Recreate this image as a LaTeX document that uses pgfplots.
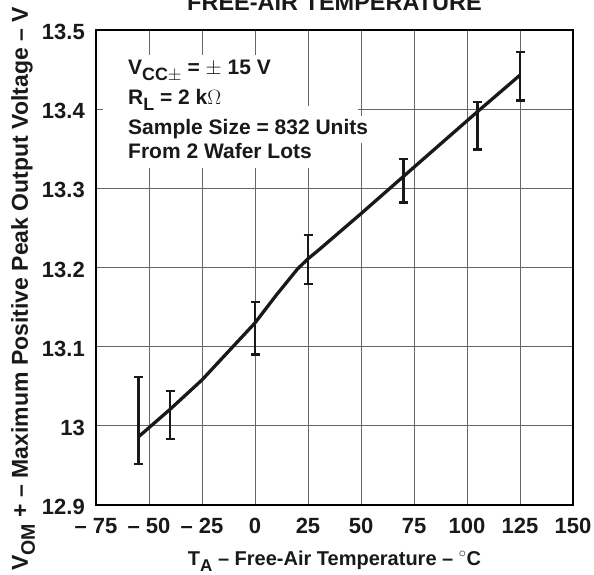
\documentclass[border=0pt]{standalone}
\usepackage{fontspec}
\setmainfont{Liberation Sans}
\usepackage{pgfplots}
\usepackage{pgfplotstable}
\pgfplotsset{compat=1.18}

\newcommand\sub[1]{\raisebox{-0.3em}{\scalebox{0.85}{#1}}}
\newcommand\fs[1]{\fontsize{#1}{#1}\selectfont\bfseries}

% mean curve
\pgfplotstableread{
x y
-55 12.986
-40 13.021
-25 13.058
0 13.130
10 13.165
20 13.198
25 13.211
30 13.222
50 13.268
70 13.315
105 13.397
125 13.443
}\curve

% error bars: value, plus, minus
\pgfplotstableread{
x y ep em
-55 12.986 0.076 0.034
-40 13.021 0.023 0.038
0 13.130 0.026 0.040
25 13.210 0.031 0.031
70 13.315 0.022 0.033
105 13.397 0.012 0.048
125 13.443 0.029 0.032
}\bars

\begin{document}
\begin{tikzpicture}
\begin{axis}[
    scale only axis,
    width=477pt, height=475pt,
    xmin=-75, xmax=150, ymin=12.9, ymax=13.5,
    clip=false,
    xtick={-75,-50,-25,0,25,50,75,100,125,150},
    xticklabels={-- 75,-- 50,-- 25,0,25,50,75,100,125,150},
    ytick={12.9,13,13.1,13.2,13.3,13.4,13.5},
    yticklabels={12.9,13,13.1,13.2,13.3,13.4,13.5},
    /pgf/number format/assume math mode=true,
    grid=major,
    major grid style={line width=0.9pt, black!60},
    tick style={draw=none},
    axis line style={line width=1.7pt, black},
    tick label style={font=\fs{22}, text=black!90},
    xticklabel style={anchor=base, inner sep=0pt, yshift=-28pt},
    yticklabel style={anchor=east, inner sep=0pt, xshift=-11pt, yshift=-2pt},
    every axis x label/.style={at={(axis description cs:0.5,0)}, anchor=base, yshift=-60pt, font=\fs{20}, text=black!90},
    every axis y label/.style={at={(axis description cs:-0.1426,0.455)}, rotate=90, anchor=base, font=\fs{23}, text=black!90},
    xlabel={T\sub{A} -- Free-Air Temperature -- $^\circ$C},
    ylabel={V\sub{OM} + -- Maximum Positive Peak Output Voltage -- V},
]
\coordinate (bl) at (rel axis cs:0,0);
\coordinate (tr) at (rel axis cs:1,1);

% white backing behind the annotation text
\fill[white] (axis cs:-71.7,13.4684) rectangle (axis cs:21.1,13.4040);
\fill[white] (axis cs:-71.7,13.4040) rectangle (axis cs:48.5,13.3914);
\fill[white] (axis cs:-71.7,13.3914) rectangle (axis cs:53.2,13.3573);
\fill[white] (axis cs:-71.7,13.3573) rectangle (axis cs:29.6,13.3257);

\node[anchor=base west, inner sep=0pt, font=\fs{21}, text=black!90] at (axis cs:-59.9,13.4444)
    {V\sub{CC$\pm$} = $\pm$ 15 V};
\node[anchor=base west, inner sep=0pt, font=\fs{21}, text=black!90] at (axis cs:-59.9,13.4065)
    {R\sub{L} = 2 k$\Omega$};
\node[anchor=base west, inner sep=0pt, font=\fs{21}, text=black!90] at (axis cs:-59.9,13.3686)
    {Sample Size = 832 Units};
\node[anchor=base west, inner sep=0pt, font=\fs{21}, text=black!90] at (axis cs:-59.9,13.3383)
    {From 2 Wafer Lots};

% second title line, cut by the top edge as in the reference
\node[overlay, anchor=base, inner sep=0pt, font=\fs{23.5}, text=black!90] at (rel axis cs:0.5,1) [yshift=19pt]
    {FREE-AIR TEMPERATURE};

\addplot[black!90, line width=3.3pt, line join=round, mark=none] table[x=x,y=y] {\curve};

\addplot[draw=none, mark=none,
    error bars/.cd, y dir=both, y explicit,
    error bar style={draw=black!90, line width=2.4pt},
    error mark options={rotate=90, draw=black!90, line width=2.2pt, mark size=4.5pt}]
    table[x=x, y=y, y error plus=ep, y error minus=em] {\bars};
\end{axis}
\pgfresetboundingbox
\useasboundingbox ([shift={(-96pt,-70pt)}]bl) rectangle ([shift={(21pt,30pt)}]tr);
\end{tikzpicture}
\end{document}
